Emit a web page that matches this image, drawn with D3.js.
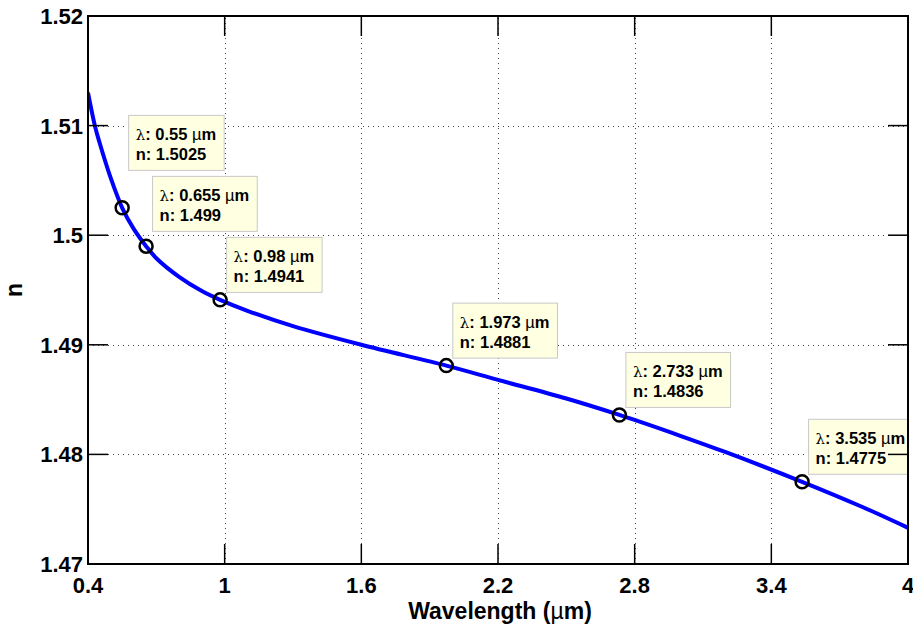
<!DOCTYPE html>
<html>
<head>
<meta charset="utf-8">
<script src="https://cdn.jsdelivr.net/npm/d3@7"></script>
<style>
  body { margin: 0; background: #fff; }
  text { font-family: "Liberation Sans", Arial, Helvetica, sans-serif; }
</style>
</head>
<body>
<div id="chart"></div>
<script>
// wavelength (um) and refractive index
const lambda = [0.4, 0.43, 0.45, 0.5, 0.55, 0.6, 0.655, 0.7, 0.8, 0.9, 0.98, 1.1, 1.3, 1.6, 1.973, 2.2, 2.5, 2.733, 3.0, 3.2, 3.535, 3.8, 4.0];
const nIndex = [1.513, 1.510, 1.5085, 1.5052, 1.5025, 1.5006, 1.499, 1.4979, 1.4962, 1.4949, 1.4941, 1.4931, 1.4917, 1.49, 1.4881, 1.4868, 1.4851, 1.4836, 1.4817, 1.4802, 1.4775, 1.4752, 1.4733];

// data tips
const tipLambda = [0.55, 0.655, 0.98, 1.973, 2.733, 3.535];
const tipN = [1.5025, 1.499, 1.4941, 1.4881, 1.4836, 1.4775];

const xTicks = [0.4, 1, 1.6, 2.2, 2.8, 3.4, 4];
const yTicks = [1.47, 1.48, 1.49, 1.5, 1.51, 1.52];

const width = 913, height = 625;
const margin = {left: 88, right: 5, top: 16, bottom: 61};

const svg = d3.select("#chart").append("svg")
  .attr("width", width)
  .attr("height", height);

const x = d3.scaleLinear().domain([0.4, 4]).range([margin.left, width - margin.right]);
const y = d3.scaleLinear().domain([1.47, 1.52]).range([height - margin.bottom, margin.top]);

const x0 = x.range()[0], x1 = x.range()[1];
const y0 = y.range()[0], y1 = y.range()[1];

svg.append("defs").append("clipPath").attr("id", "plotclip")
  .append("rect").attr("x", x0).attr("y", y1).attr("width", x1 - x0).attr("height", y0 - y1);

// grid
const grid = svg.append("g").attr("stroke", "#444").attr("stroke-width", 1).attr("stroke-dasharray", "1,4");
grid.selectAll(".gx").data(xTicks.slice(1, -1)).enter().append("line")
  .attr("x1", d => Math.round(x(d)) + 0.5).attr("x2", d => Math.round(x(d)) + 0.5)
  .attr("y1", y0).attr("y2", y1);
grid.selectAll(".gy").data(yTicks.slice(1, -1)).enter().append("line")
  .attr("y1", d => Math.round(y(d)) + 0.5).attr("y2", d => Math.round(y(d)) + 0.5)
  .attr("x1", x0).attr("x2", x1);

const plot = svg.append("g").attr("clip-path", "url(#plotclip)");

const line = d3.line()
  .x((d, i) => x(lambda[i]))
  .y(d => y(d))
  .curve(d3.curveCatmullRom);

plot.append("path")
  .datum(nIndex)
  .attr("d", line)
  .attr("fill", "none")
  .attr("stroke", "#0000ff")
  .attr("stroke-width", 4);

plot.selectAll(".mk").data(tipLambda).enter().append("circle")
  .attr("cx", d => x(d))
  .attr("cy", (d, i) => y(tipN[i]))
  .attr("r", 6.5)
  .attr("fill", "none")
  .attr("stroke", "#000")
  .attr("stroke-width", 2.5);

// data tip boxes
const boxH = 55;
const tips = plot.selectAll(".tip").data(tipLambda).enter().append("g");

tips.append("rect")
  .attr("height", boxH)
  .attr("fill", "#ffffe1")
  .attr("stroke", "#c8c8c8")
  .attr("stroke-width", 1);

const t1 = tips.append("text").attr("x", 7).attr("y", 24.5)
  .attr("font-size", 16.5).attr("font-weight", "bold").attr("fill", "#000");
t1.append("tspan").attr("font-weight", "normal").attr("font-family", "'DejaVu Serif', serif").attr("font-size", 15).text("\u03bb");
t1.append("tspan").text(d => ": " + d + " ");
t1.append("tspan").attr("font-weight", "normal").text("\u00b5");
t1.append("tspan").text("m");

tips.append("text").attr("x", 7).attr("y", 44.5)
  .attr("font-size", 16.5).attr("font-weight", "bold").attr("fill", "#000")
  .text((d, i) => "n: " + tipN[i]);

// size boxes to text, then push a tip upward if it would hit the next one
const boxes = tipLambda.map((d, i) => ({x: x(d) + 6.5, y: y(tipN[i]) - 7.5 - boxH, w: 0}));
tips.each(function(d, i) {
  const g = d3.select(this);
  boxes[i].w = d3.max(g.selectAll("text").nodes(), n => n.getComputedTextLength()) + 15;
  g.select("rect").attr("width", boxes[i].w);
});
for (let i = boxes.length - 2; i >= 0; i--) {
  const a = boxes[i], b = boxes[i + 1];
  const overlapX = a.x < b.x + b.w && b.x < a.x + a.w;
  if (overlapX && a.y + boxH > b.y - 6) a.y = b.y - 6 - boxH;
}
tips.attr("transform", (d, i) => `translate(${boxes[i].x},${boxes[i].y})`);

// axes box with ticks
const ax = svg.append("g").attr("stroke", "#000").attr("stroke-width", 2);
const tickLen = 20;
ax.selectAll(".tb").data(xTicks).enter().append("line")
  .attr("x1", d => x(d)).attr("x2", d => x(d)).attr("y1", y0).attr("y2", y0 - tickLen).attr("stroke-width", 1.5);
ax.selectAll(".tt").data(xTicks).enter().append("line")
  .attr("x1", d => x(d)).attr("x2", d => x(d)).attr("y1", y1).attr("y2", y1 + tickLen).attr("stroke-width", 1.5);
ax.selectAll(".tl").data(yTicks).enter().append("line")
  .attr("y1", d => y(d)).attr("y2", d => y(d)).attr("x1", x0).attr("x2", x0 + tickLen).attr("stroke-width", 1.5);
ax.selectAll(".tr").data(yTicks).enter().append("line")
  .attr("y1", d => y(d)).attr("y2", d => y(d)).attr("x1", x1).attr("x2", x1 - tickLen).attr("stroke-width", 1.5);
ax.append("rect")
  .attr("x", x0).attr("y", y1).attr("width", x1 - x0).attr("height", y0 - y1)
  .attr("fill", "none");

// tick labels
const fmt = d3.format("~g");
svg.append("g").selectAll("text").data(xTicks).enter().append("text")
  .attr("x", d => x(d)).attr("y", y0 + 29)
  .attr("text-anchor", "middle")
  .attr("font-size", 22).attr("font-weight", "bold")
  .text(d => fmt(d));
svg.append("g").selectAll("text").data(yTicks).enter().append("text")
  .attr("x", x0 - 5).attr("y", d => y(d) + 8)
  .attr("text-anchor", "end")
  .attr("font-size", 22).attr("font-weight", "bold")
  .text(d => fmt(d));

// axis labels
const xl = svg.append("text")
  .attr("x", 500).attr("y", 619)
  .attr("text-anchor", "middle")
  .attr("font-size", 23).attr("font-weight", "bold");
xl.append("tspan").text("Wavelength (");
xl.append("tspan").attr("font-weight", "normal").text("\u00b5");
xl.append("tspan").text("m)");

svg.append("text")
  .attr("transform", `translate(22,${(y0 + y1) / 2}) rotate(-90)`)
  .attr("text-anchor", "middle")
  .attr("font-size", 23).attr("font-weight", "bold")
  .text("n");
</script>
</body>
</html>
